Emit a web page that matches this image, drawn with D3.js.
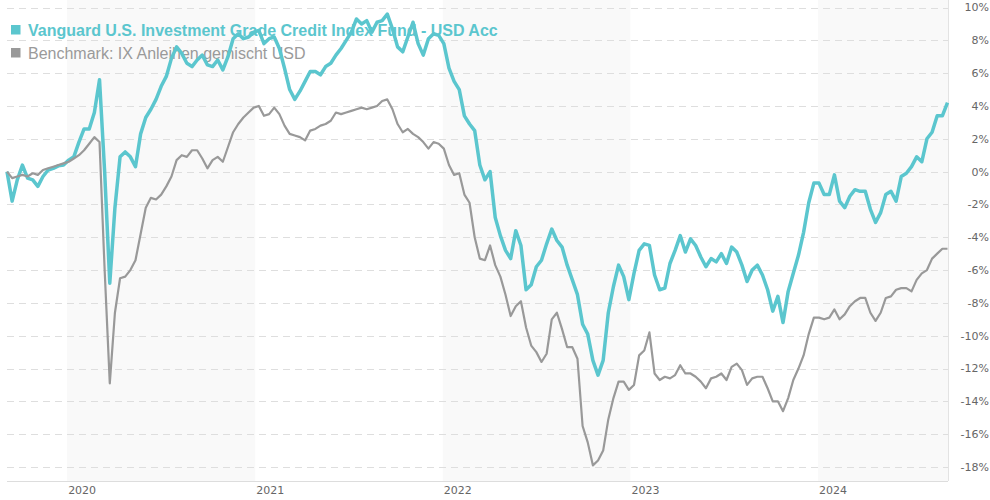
<!DOCTYPE html>
<html>
<head>
<meta charset="utf-8">
<script src="https://cdn.jsdelivr.net/npm/d3@7"></script>
<style>
  html, body { margin: 0; padding: 0; background: #fff; }
  svg { display: block; }
</style>
</head>
<body>
<svg id="chart" width="990" height="500"></svg>
<script>
// series are sampled every 10 days starting at startDate
const startDate = new Date(2019, 8, 6);
const stepDays = 10;

const seriesNames = [
  'Vanguard U.S. Investment Grade Credit Index Fund - USD Acc',
  'Benchmark: IX Anleihen gemischt USD'
];

const fundValues = [
  0.0, -1.8, -0.5, 0.4, -0.4, -0.5, -0.9, -0.3, 0.1, 0.2,
  0.35, 0.4, 0.7, 0.9, 1.8, 2.6, 2.6, 3.6, 5.6, 0.0,
  -6.8, -2.2, 0.9, 1.2, 0.9, 0.3, 2.3, 3.3, 3.8, 4.4,
  5.2, 5.8, 6.9, 7.6, 7.2, 6.6, 6.4, 6.8, 7.1, 6.5,
  6.4, 6.8, 6.2, 7.0, 8.1, 8.4, 8.1, 8.2, 8.5, 8.6,
  7.8, 8.1, 8.2, 7.5, 6.3, 5.0, 4.4, 4.9, 5.5, 6.1,
  6.1, 5.9, 6.4, 6.6, 7.1, 7.5, 8.0, 8.5, 9.3, 9.0,
  9.2, 8.5, 9.1, 9.2, 9.6, 8.7, 7.6, 7.3, 8.2, 9.1,
  7.8, 7.1, 8.1, 8.4, 8.3, 7.8, 6.3, 5.5, 5.0, 3.4,
  2.9, 2.5, 0.4, -0.5, 0.0, -2.8, -3.9, -4.8, -5.3, -3.6,
  -4.5, -7.2, -6.9, -5.8, -5.4, -4.4, -3.5, -4.2, -4.6, -5.7,
  -6.6, -7.5, -9.3, -9.9, -11.5, -12.4, -11.5, -8.6, -7.0, -5.7,
  -6.4, -7.8, -6.2, -4.8, -4.4, -4.5, -6.3, -7.2, -7.1, -5.6,
  -4.8, -3.9, -4.9, -4.1, -4.5, -5.2, -5.8, -5.3, -5.5, -5.0,
  -5.6, -4.6, -4.9, -5.7, -6.7, -6.0, -5.7, -6.3, -7.2, -8.5,
  -7.6, -9.2, -7.3, -6.2, -5.1, -3.7, -1.9, -0.7, -0.7, -1.4,
  -1.4, -0.2, -1.8, -2.2, -1.5, -1.1, -1.2, -1.2, -2.3, -3.1,
  -2.5, -1.4, -1.2, -1.8, -0.3, -0.1, 0.3, 0.9, 0.6, 2.0,
  2.4, 3.4, 3.4, 4.2
];

const benchValues = [
  0.0, -0.4, -0.3, -0.2, -0.3, -0.1, -0.2, 0.1, 0.2, 0.3,
  0.4, 0.5, 0.6, 0.8, 1.0, 1.3, 1.7, 2.1, 1.8, -6.0,
  -12.9, -8.6, -6.5, -6.4, -6.0, -5.4, -3.8, -2.2, -1.6, -1.7,
  -1.4, -0.9, -0.3, 0.7, 1.0, 0.9, 1.3, 1.3, 0.8, 0.2,
  0.7, 0.9, 0.6, 1.5, 2.4, 2.9, 3.3, 3.6, 3.9, 4.0,
  3.4, 3.5, 3.9, 3.5, 2.8, 2.3, 2.2, 2.1, 1.9, 2.5,
  2.6, 2.8, 2.9, 3.1, 3.6, 3.5, 3.6, 3.7, 3.8, 3.9,
  3.8, 3.9, 4.0, 4.3, 4.4, 3.8, 2.9, 2.4, 2.6, 2.3,
  2.1, 1.8, 1.4, 1.8, 1.7, 1.4, 0.4, -0.2, -0.1, -1.4,
  -1.9, -4.0, -5.3, -5.4, -4.5, -5.7, -6.4, -7.5, -8.8, -8.2,
  -7.9, -9.5, -10.6, -11.0, -11.6, -11.1, -9.0, -8.6, -9.6, -10.7,
  -10.7, -11.4, -15.5, -16.5, -17.9, -17.6, -17.0, -15.1, -13.8, -12.8,
  -12.8, -13.3, -13.0, -11.2, -10.9, -9.8, -12.3, -12.7, -12.5, -12.6,
  -12.4, -11.8, -12.3, -12.3, -12.5, -12.8, -13.2, -12.6, -12.5, -12.3,
  -12.7, -11.9, -11.7, -12.1, -13.0, -12.6, -12.5, -12.5, -13.2, -14.0,
  -14.0, -14.6, -13.8, -12.7, -12.0, -11.2, -9.9, -8.9, -8.9, -9.0,
  -8.9, -8.4, -9.0, -8.7, -8.2, -7.9, -7.7, -7.7, -8.6, -9.1,
  -8.6, -7.7, -7.6, -7.2, -7.1, -7.1, -7.3, -6.6, -6.2, -6.0,
  -5.3, -5.0, -4.7, -4.7
];

const yTicks = [10, 8, 6, 4, 2, 0, -2, -4, -6, -8, -10, -12, -14, -16, -18];
const xDomain = [new Date(2019, 8, 6), new Date(2024, 8, 10)];
const shadedYears = [2020, 2022, 2024];

const colors = ['#5bc6ce', '#999999'];

const plotLeft = 7, plotRight = 948, plotTop = 0, plotBottom = 481;

const svg = d3.select('#chart');

const x = d3.scaleTime().domain(xDomain).range([plotLeft, plotRight]);
const y = d3.scaleLinear().domain([-18, 10]).range([467, 7.5]);

const dates = fundValues.map((d, i) => d3.timeDay.offset(startDate, i * stepDays));

// alternating year bands
svg.append('g')
  .selectAll('rect')
  .data(shadedYears)
  .join('rect')
  .attr('x', d => x(new Date(d, 0, 1)))
  .attr('y', plotTop)
  .attr('width', d => Math.min(plotRight, x(new Date(d + 1, 0, 1))) - x(new Date(d, 0, 1)))
  .attr('height', plotBottom - plotTop)
  .attr('fill', '#f9f9f9');

// dashed grid
svg.append('g')
  .selectAll('line')
  .data(yTicks)
  .join('line')
  .attr('x1', plotLeft)
  .attr('x2', plotRight)
  .attr('y1', d => Math.round(y(d)) + 0.5)
  .attr('y2', d => Math.round(y(d)) + 0.5)
  .attr('stroke', '#dedede')
  .attr('stroke-dasharray', '7,5');

// frame: right edge and x axis line
svg.append('line')
  .attr('x1', plotRight + 0.5).attr('x2', plotRight + 0.5)
  .attr('y1', plotTop).attr('y2', plotBottom)
  .attr('stroke', '#e3e3e3');
svg.append('line')
  .attr('x1', plotLeft).attr('x2', plotRight)
  .attr('y1', plotBottom + 0.5).attr('y2', plotBottom + 0.5)
  .attr('stroke', '#dddddd');

// y labels on the right
svg.append('g')
  .attr('font-family', '"DejaVu Sans", Verdana, sans-serif')
  .attr('font-size', 11)
  .attr('fill', '#666')
  .attr('text-anchor', 'end')
  .selectAll('text')
  .data(yTicks)
  .join('text')
  .attr('x', 989)
  .attr('y', d => y(d))
  .attr('dy', '0.36em')
  .text(d => d + '%');

// year labels
svg.append('g')
  .attr('font-family', '"DejaVu Sans", Verdana, sans-serif')
  .attr('font-size', 11)
  .attr('fill', '#666')
  .selectAll('text')
  .data(x.ticks(d3.timeYear.every(1)))
  .join('text')
  .attr('x', d => x(d) + 1)
  .attr('y', 494)
  .text(d3.timeFormat('%Y'));

// legend (sits under the lines)
const legend = svg.append('g')
  .attr('font-family', '"Liberation Sans", Arial, sans-serif')
  .attr('font-size', 16);

seriesNames.forEach((name, i) => {
  const ly = 35.5 + i * 23;
  legend.append('rect')
    .attr('x', 11).attr('y', ly - 10.5)
    .attr('width', 9.5).attr('height', 9.5)
    .attr('fill', colors[i]);
  legend.append('text')
    .attr('x', 28).attr('y', ly)
    .attr('fill', i === 0 ? colors[0] : '#9a9a9a')
    .attr('font-weight', i === 0 ? 'bold' : 'normal')
    .text(name);
});

const line = d3.line()
  .x((d, i) => x(dates[i]))
  .y(d => y(d));

svg.append('path')
  .datum(fundValues)
  .attr('fill', 'none')
  .attr('stroke', colors[0])
  .attr('stroke-width', 3.5)
  .attr('stroke-linejoin', 'round')
  .attr('d', line);

svg.append('path')
  .datum(benchValues)
  .attr('fill', 'none')
  .attr('stroke', colors[1])
  .attr('stroke-width', 2.2)
  .attr('stroke-linejoin', 'round')
  .attr('d', line);
</script>
</body>
</html>
